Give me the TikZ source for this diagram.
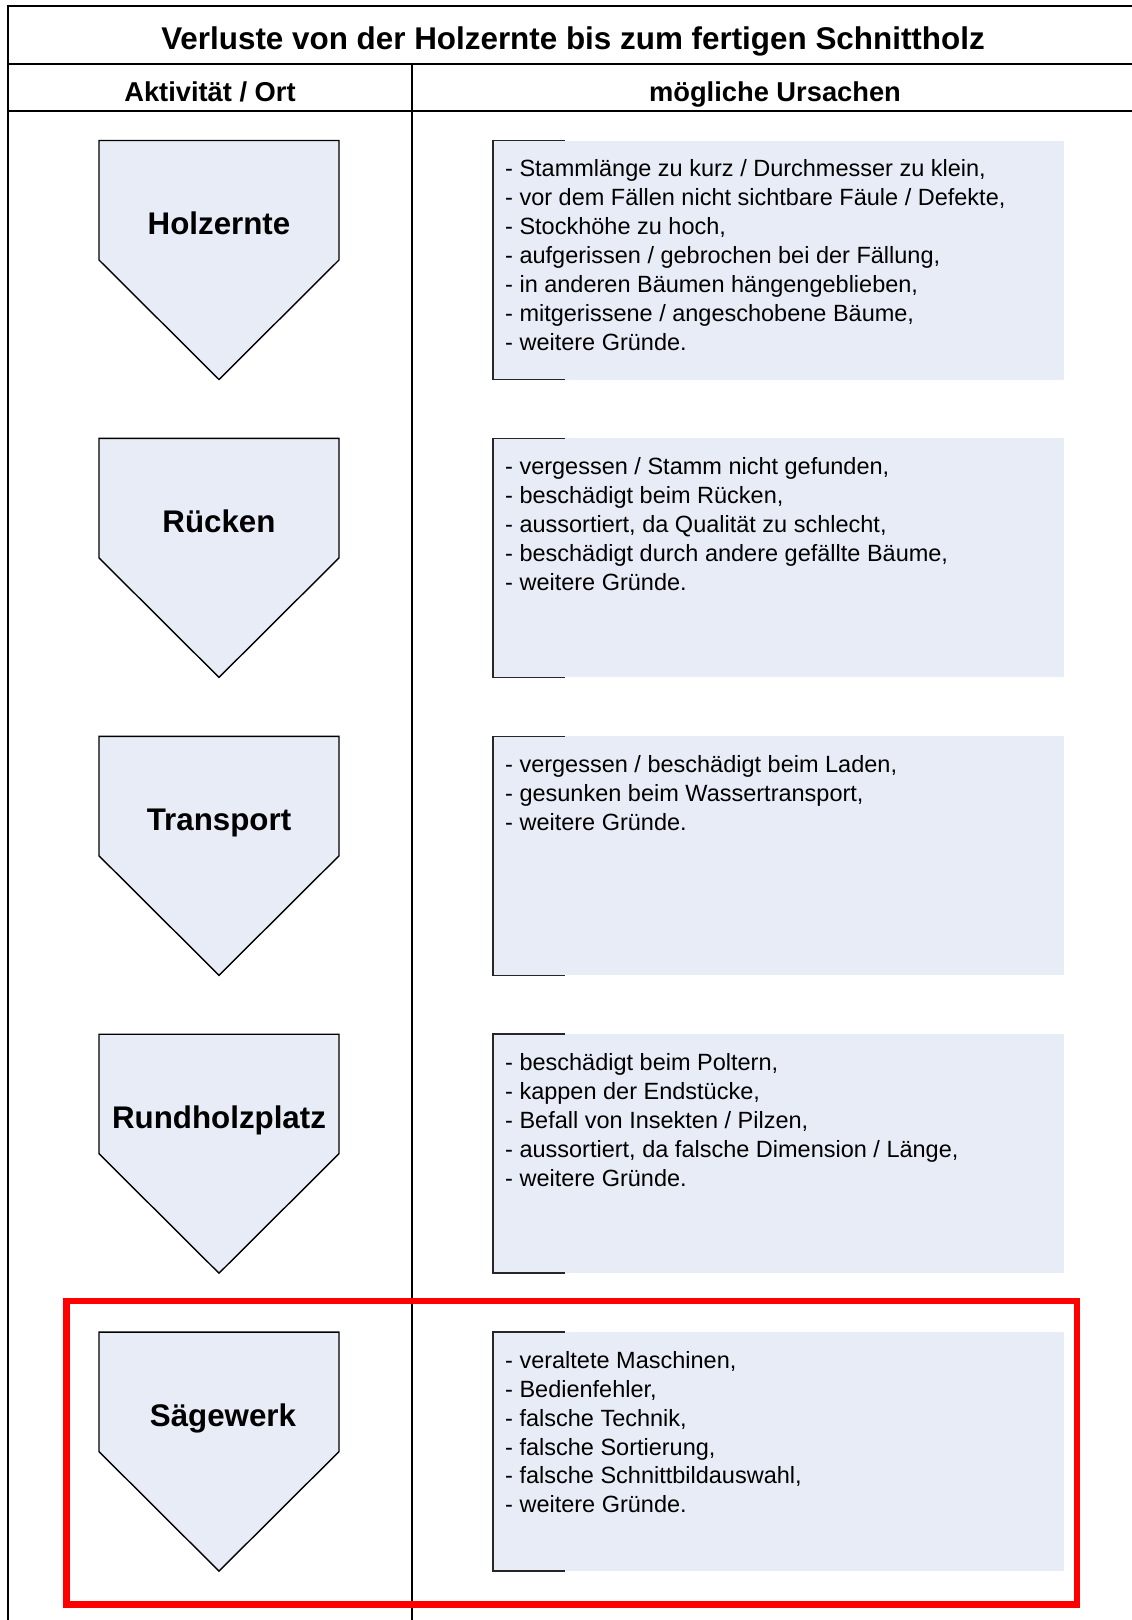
\documentclass[tikz,border=0pt]{standalone}
\usepackage{fontspec}
\setmainfont{Liberation Sans}
\definecolor{boxfill}{RGB}{231,236,246}
\definecolor{framered}{RGB}{255,0,0}
\newcommand\stagerow[5]{% #1 name, #2 top y, #3 label, #4 label x, #5 causes
  \fill[boxfill] (493,#2) rectangle (1064,#2+239);
  \draw[bracketline] (565,#2) -- (493,#2) -- (493,#2+239) -- (565,#2+239);
  \draw[stagepent] (99,#2) -- (339,#2) -- (339,#2+119.5) -- (219,#2+239) -- (99,#2+119.5) -- cycle;
  \node[stagelabel] (#1-label) at (#4,#2+94) {#3};
  \node[causetext] (#1-causes) at (505,#2+16) {\rule{0pt}{20pt}#5};
}
\begin{document}
\begin{tikzpicture}[x=1pt,y=-1pt,
  frameline/.style={line width=2pt, draw=black},
  stagepent/.style={draw=black, line width=1.4pt, fill=boxfill, line join=miter},
  bracketline/.style={draw=black!85, line width=1.5pt},
  stagelabel/.style={anchor=base, inner sep=0pt, font=\bfseries\fontsize{31.3}{36}\selectfont},
  causetext/.style={anchor=north west, inner sep=0pt, align=left, font=\fontsize{23.5}{28.9}\selectfont},
  titletext/.style={anchor=base, inner sep=0pt, font=\bfseries\fontsize{31.4}{36}\selectfont},
  headtext/.style={anchor=base, inner sep=0pt, font=\bfseries\fontsize{27.3}{32}\selectfont},
  redframe/.style={draw=framered, line width=6.5pt}]
\useasboundingbox (0,0) rectangle (1132,1620);
\fill[white] (0,0) rectangle (1132,1620);
% frame
\draw[frameline] (1132,5.5) -- (7.5,5.5) -- (7.5,1620);
\draw[frameline] (7.5,63.5) -- (1132,63.5);
\draw[frameline] (7.5,111) -- (1132,111);
\draw[frameline] (411.5,63.5) -- (411.5,1620);
% headings
\node[titletext] (title) at (573,49.2) {Verluste von der Holzernte bis zum fertigen Schnittholz};
\node[headtext] (colA) at (210,101.8) {Aktivität / Ort};
\node[headtext] (colB) at (775,101.8) {mögliche Ursachen};
% rows
\stagerow{holz}{140.5}{Holzernte}{219}{- Stammlänge zu kurz / Durchmesser zu klein,\\
- vor dem Fällen nicht sichtbare Fäule / Defekte,\\
- Stockhöhe zu hoch,\\
- aufgerissen / gebrochen bei der Fällung,\\
- in anderen Bäumen hängengeblieben,\\
- mitgerissene / angeschobene Bäume,\\
- weitere Gründe.}
\stagerow{ruecken}{438.4}{Rücken}{219}{- vergessen / Stamm nicht gefunden,\\
- beschädigt beim Rücken,\\
- aussortiert, da Qualität zu schlecht,\\
- beschädigt durch andere gefällte Bäume,\\
- weitere Gründe.}
\stagerow{transport}{736.3}{Transport}{219}{- vergessen / beschädigt beim Laden,\\
- gesunken beim Wassertransport,\\
- weitere Gründe.}
\stagerow{rundholz}{1034.2}{Rundholzplatz}{219}{- beschädigt beim Poltern,\\
- kappen der Endstücke,\\
- Befall von Insekten / Pilzen,\\
- aussortiert, da falsche Dimension / Länge,\\
- weitere Gründe.}
\stagerow{saege}{1332.1}{Sägewerk}{223}{- veraltete Maschinen,\\
- Bedienfehler,\\
- falsche Technik,\\
- falsche Sortierung,\\
- falsche Schnittbildauswahl,\\
- weitere Gründe.}
% highlight
\draw[redframe] (66.5,1301) rectangle (1077,1604.5);
\end{tikzpicture}
\end{document}
